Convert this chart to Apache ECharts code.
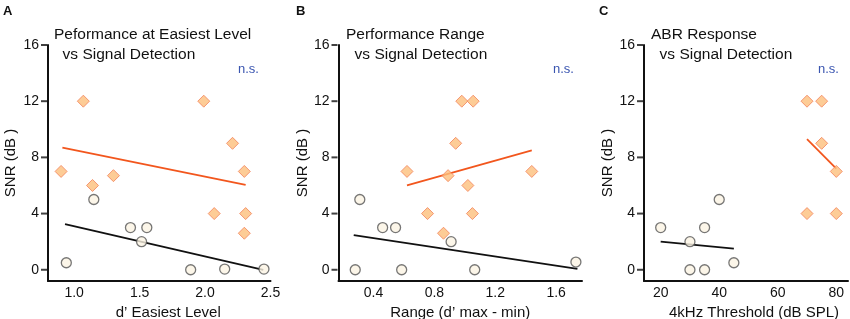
<!DOCTYPE html>
<html>
<head>
<meta charset="utf-8">
<script src="https://cdn.jsdelivr.net/npm/echarts@6/dist/echarts.min.js"></script>
<style>
  html, body { margin: 0; padding: 0; background: #fff; }
  #main { width: 850px; height: 319px; }
</style>
</head>
<body>
<div id="main"></div>
<script>
// 数据
// A: d' easiest level vs SNR
var easiestDiamonds = [[0.90, 7], [1.07, 12], [1.14, 6], [1.30, 6.7], [1.99, 12], [2.07, 4], [2.21, 9], [2.30, 7], [2.31, 4], [2.30, 2.6]];
var easiestCircles = [[0.94, 0.5], [1.15, 5], [1.43, 3], [1.555, 3], [1.515, 2], [1.89, 0], [2.15, 0.05], [2.45, 0.05]];
var easiestDiamondFit = [[0.91, 8.7], [2.31, 6.05]];
var easiestCircleFit = [[0.93, 3.25], [2.445, 0]];
var easiestTicks = [1.0, 1.5, 2.0, 2.5];

// B: performance range vs SNR
var rangeDiamonds = [[0.62, 7], [0.98, 12], [1.055, 12], [0.94, 9], [0.89, 6.7], [1.02, 6], [1.44, 7], [0.755, 4], [1.05, 4], [0.86, 2.6]];
var rangeCircles = [[0.31, 5], [0.46, 3], [0.545, 3], [0.28, 0], [0.585, 0], [0.91, 2], [1.065, 0], [1.73, 0.55]];
var rangeDiamondFit = [[0.62, 6.0], [1.44, 8.5]];
var rangeCircleFit = [[0.27, 2.47], [1.74, 0.07]];
var rangeTicks = [0.4, 0.8, 1.2, 1.6];

// C: ABR threshold vs SNR
var abrDiamonds = [[70, 12], [75, 12], [75, 9], [80, 7], [70, 4], [80, 4]];
var abrCircles = [[20, 3], [30, 2], [35, 3], [40, 5], [30, 0], [35, 0], [45, 0.5]];
var abrDiamondFit = [[70, 9.3], [80, 7.2]];
var abrCircleFit = [[20, 2.0], [45, 1.5]];
var abrTicks = [20, 40, 60, 80];

var snrTicks = [0, 4, 8, 12, 16];

var FONT = '"Liberation Sans", Arial, sans-serif';
var myChart = echarts.init(document.getElementById('main'));

// x 轴范围
var xRanges = [[0.80, 2.5], [0.17, 1.77], [14.3, 84]];

function xAxis(idx, ticks, name, digits, padLeft) {
    return {
        type: 'value', gridIndex: idx, min: xRanges[idx][0], max: xRanges[idx][1],
        name: name, nameLocation: 'middle', nameGap: 20,
        nameTextStyle: { color: '#111', fontSize: 15, fontFamily: FONT, padding: [0, 0, 0, padLeft] },
        axisLine: { show: true, onZero: false, lineStyle: { color: '#111', width: 2 } },
        axisTick: { show: false },
        splitLine: { show: false },
        axisLabel: {
            customValues: ticks, margin: 5, color: '#111', fontSize: 14, fontFamily: FONT,
            formatter: function (v) { return v.toFixed(digits); }
        }
    };
}
function yAxis(idx, gap) {
    return {
        type: 'value', gridIndex: idx, min: -0.8, max: 16,
        name: 'SNR (dB )', nameLocation: 'middle', nameGap: gap, nameRotate: 90,
        nameTextStyle: { color: '#111', fontSize: 15, fontFamily: FONT },
        axisLine: { show: true, onZero: false, lineStyle: { color: '#111', width: 2 } },
        axisTick: { show: false },
        splitLine: { show: false },
        axisLabel: { customValues: snrTicks, margin: 9, color: '#111', fontSize: 14, fontFamily: FONT }
    };
}
// y 轴刻度线 (outside ticks at the left edge)
function yTicks(idx) {
    return { type: 'scatter', xAxisIndex: idx, yAxisIndex: idx, z: 6, silent: true, clip: false,
        data: snrTicks.map(function (v) { return [xRanges[idx][0], v]; }),
        symbol: 'rect', symbolSize: [6, 2], symbolOffset: [-4, 0],
        itemStyle: { color: '#111' } };
}
function diamonds(idx, data) {
    return { type: 'scatter', xAxisIndex: idx, yAxisIndex: idx, data: data, z: 5,
        symbol: 'diamond', symbolSize: 12,
        itemStyle: { color: '#fdbf7c', borderColor: '#f3825a', borderWidth: 1 } };
}
function circles(idx, data) {
    return { type: 'scatter', xAxisIndex: idx, yAxisIndex: idx, data: data, z: 5,
        symbol: 'circle', symbolSize: 10,
        itemStyle: { color: '#fbf4e4', borderColor: '#555', borderWidth: 1.3 } };
}
function fit(idx, data, color) {
    return { type: 'line', xAxisIndex: idx, yAxisIndex: idx, data: data, z: 3,
        symbol: 'none', silent: true, lineStyle: { color: color, width: 1.8 } };
}
function label(text, left, top, style) {
    return { text: text, left: left, top: top, padding: 0, textStyle: style };
}

var titleStyle = { fontSize: 15.5, fontWeight: 'normal', color: '#111', fontFamily: FONT, lineHeight: 19.5 };
var letterStyle = { fontSize: 13, fontWeight: 'bold', color: '#111', fontFamily: FONT };
var nsStyle = { fontSize: 13, fontWeight: 'normal', color: '#3a55b0', fontFamily: FONT };

var option = {
    animation: false,
    backgroundColor: '#fff',
    title: [
        label('A', 3, 5, letterStyle),
        label('B', 296, 5, letterStyle),
        label('C', 599, 5, letterStyle),
        label('Peformance at Easiest Level\n  vs Signal Detection', 54, 25, titleStyle),
        label('Performance Range\n  vs Signal Detection', 346, 25, titleStyle),
        label('ABR Response\n  vs Signal Detection', 651, 25, titleStyle),
        label('n.s.', 238, 63, nsStyle),
        label('n.s.', 553, 63, nsStyle),
        label('n.s.', 818, 63, nsStyle)
    ],
    grid: [
        { left: 48, top: 45, width: 222.5, height: 236, containLabel: false, outerBoundsMode: 'none' },
        { left: 338.5, top: 45, width: 243.5, height: 236, containLabel: false, outerBoundsMode: 'none' },
        { left: 644, top: 45, width: 204, height: 236, containLabel: false, outerBoundsMode: 'none' }
    ],
    xAxis: [
        xAxis(0, easiestTicks, "d\u2019 Easiest Level", 1, 18),
        xAxis(1, rangeTicks, "Range (d\u2019 max - min)", 1, 0),
        xAxis(2, abrTicks, '4kHz Threshold (dB SPL)', 0, 16)
    ],
    yAxis: [yAxis(0, 30), yAxis(1, 26), yAxis(2, 26)],
    series: [
        yTicks(0), yTicks(1), yTicks(2),
        fit(0, easiestDiamondFit, '#f2561d'),
        fit(0, easiestCircleFit, '#111'),
        diamonds(0, easiestDiamonds),
        circles(0, easiestCircles),
        fit(1, rangeDiamondFit, '#f2561d'),
        fit(1, rangeCircleFit, '#111'),
        diamonds(1, rangeDiamonds),
        circles(1, rangeCircles),
        fit(2, abrDiamondFit, '#f2561d'),
        fit(2, abrCircleFit, '#111'),
        diamonds(2, abrDiamonds),
        circles(2, abrCircles)
    ]
};
myChart.setOption(option);
</script>
</body>
</html>
